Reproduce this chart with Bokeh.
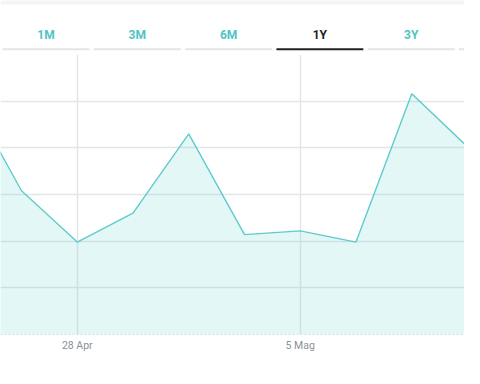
from bokeh.plotting import figure
from bokeh.models import Range1d, FixedTicker, ColumnDataSource, BoxAnnotation
from bokeh.layouts import column
from bokeh.core.properties import value
from bokeh.embed import file_html
from bokeh.resources import INLINE

# ---- data ----
tabs = ["1M", "3M", "6M", "1Y", "3Y"]
active_tab = "1Y"
n_tab_slots = 6  # a sixth tab is partly visible at the right edge (label hidden)

point_index = [0, 1, 2, 3, 4, 5, 6, 7, 8, 9, 10]
prices = [14.62, 13.54, 12.99, 13.30, 14.15, 13.07, 13.11, 12.99, 14.58, 14.01, 12.46]
tick_positions = [2, 6]
tick_labels = ["28 Apr", "5 Mag"]

TEAL = "#5fcbcc"
TAB_TEAL = "#4fc4c6"
GRID = "#e3e5e9"
FONT = "Roboto"

# ---- tab row ----
slots = list(range(n_tab_slots))
half = 0.476
seg_src = ColumnDataSource(dict(
    x0=[k - half for k in slots],
    x1=[k + half for k in slots],
    y=[48.7] * n_tab_slots,
    color=["#222222" if (k < len(tabs) and tabs[k] == active_tab) else "#e2e5e9" for k in slots],
))
txt_src = ColumnDataSource(dict(
    x=list(range(len(tabs))),
    y=[34.5] * len(tabs),
    text=tabs,
    color=["#222222" if t == active_tab else TAB_TEAL for t in tabs],
))

top = figure(width=464, height=54, output_backend="svg", toolbar_location=None,
             x_range=Range1d(-0.4984, 4.584), y_range=Range1d(54, 0),
             min_border=0, outline_line_color=None)
top.axis.visible = False
top.grid.visible = False
top.add_layout(BoxAnnotation(top=0, bottom=4, fill_color="#f3f4f6", fill_alpha=1.0, line_color=None))
top.segment(x0="x0", x1="x1", y0="y", y1="y", line_color="color", line_width=2, source=seg_src)
top.text(x="x", y="y", text="text", text_color="color", text_font=value(FONT),
         text_font_style="bold", text_font_size="12px", text_align="center",
         text_baseline="middle", source=txt_src)

# ---- main chart ----
p = figure(width=464, height=314, output_backend="svg", toolbar_location=None,
           x_range=Range1d(0.6233, 8.946), y_range=Range1d(12.0, 15.0),
           min_border_top=0, min_border_bottom=34, min_border_left=0, min_border_right=0,
           outline_line_color=None)
p.yaxis.visible = False

src = ColumnDataSource(dict(x=point_index, y=prices, base=[12.0] * len(prices)))
p.varea(x="x", y1="base", y2="y", source=src, fill_color="#4cc9c9", fill_alpha=0.15)
p.line(x="x", y="y", source=src, line_color=TEAL, line_width=1.4)

p.xaxis.ticker = FixedTicker(ticks=tick_positions)
p.xaxis.major_label_overrides = dict(zip(tick_positions, tick_labels))
p.xaxis.major_tick_line_color = None
p.xaxis.minor_tick_line_color = None
p.xaxis.major_tick_out = 0
p.xaxis.major_tick_in = 0
p.xaxis.axis_line_color = "#dcdcdf"
p.xaxis.axis_line_dash = "2 2"
p.xaxis.major_label_text_font = FONT
p.xaxis.major_label_text_font_size = "10.5px"
p.xaxis.major_label_text_color = "#8b9099"
p.xaxis.major_label_standoff = 4

p.xgrid.ticker = FixedTicker(ticks=tick_positions)
p.xgrid.grid_line_color = GRID
p.xgrid.grid_line_width = 1.5
p.ygrid.ticker = FixedTicker(ticks=[12.5, 13.0, 13.5, 14.0, 14.5])
p.ygrid.grid_line_color = GRID
p.ygrid.grid_line_width = 1.5

layout = column(top, p, spacing=0)
open("out.html", "w").write(file_html(layout, INLINE))
